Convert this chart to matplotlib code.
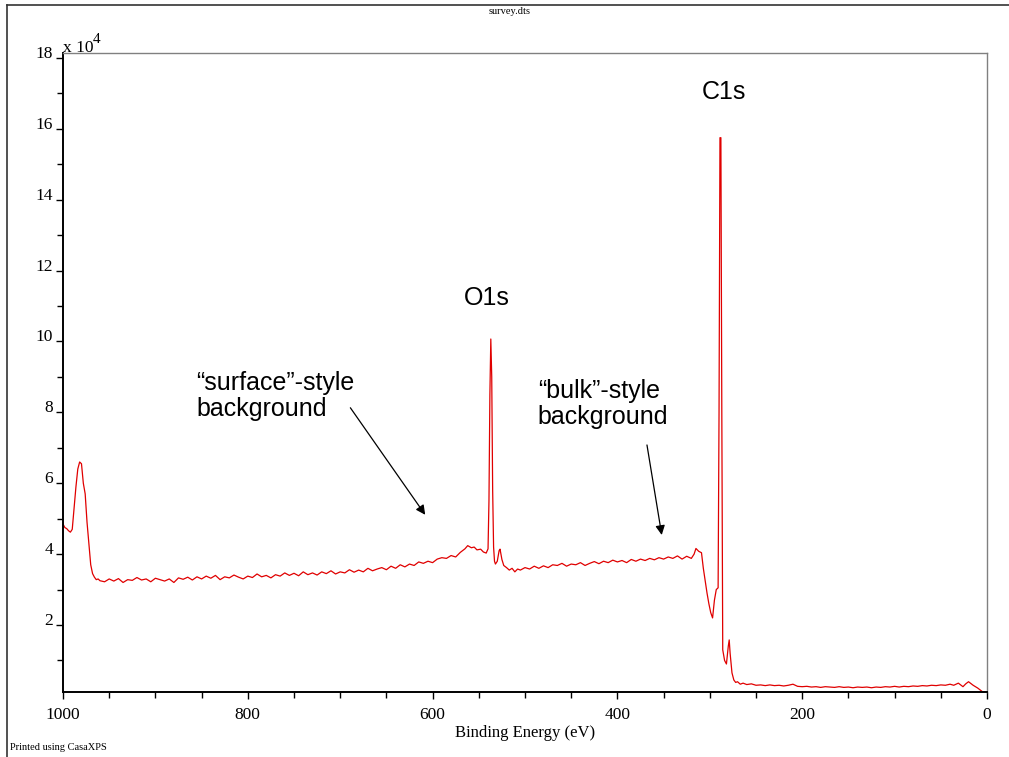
import matplotlib
matplotlib.use('Agg')
import matplotlib.pyplot as plt
from matplotlib.lines import Line2D
from matplotlib.ticker import MultipleLocator

# Survey spectrum (binding energy in eV, counts in units of 1e4)
energy = [
    1000, 998, 996, 994, 992, 990, 988, 986, 984, 982, 980, 978, 976, 974, 972, 970, 968, 966, 964, 962, 960,
    955, 950, 945, 940, 935, 930, 925, 920, 915, 910, 905, 900, 895, 890, 885, 880, 875, 870, 865, 860,
    855, 850, 845, 840, 835, 830, 825, 820, 815, 810, 805, 800, 795, 790, 785, 780, 775, 770, 765, 760,
    755, 750, 745, 740, 735, 730, 725, 720, 715, 710, 705, 700, 695, 690, 685, 680, 675, 670, 665, 660,
    655, 650, 645, 640, 635, 630, 625, 620, 615, 610, 605, 600, 595, 590, 585, 580, 575, 570, 565, 562,
    558, 555, 552, 548, 545, 542, 540, 539, 538, 537, 536, 535, 534, 533, 532, 530, 528, 527, 525, 523,
    520, 517, 514, 511, 508, 505, 500, 495, 490, 485, 480, 475, 470, 465, 460, 455, 450, 445, 440, 435,
    430, 425, 420, 415, 410, 405, 400, 395, 390, 385, 380, 375, 370, 365, 360, 355, 350, 345, 340, 335,
    330, 325, 320, 317, 315, 312, 309, 307, 305, 303, 301, 299, 297, 295, 293, 291, 290, 289, 288, 287,
    286, 284, 282, 280, 279, 278, 276, 274, 272, 270, 267, 264, 260, 255, 250, 245, 240, 235, 230, 225,
    220, 215, 210, 205, 200, 195, 190, 185, 180, 175, 170, 165, 160, 155, 150, 145, 140, 135, 130, 125,
    120, 115, 110, 105, 100, 95, 90, 85, 80, 75, 70, 65, 60, 55, 50, 45, 40, 36, 31, 26,
    23, 20, 15, 10, 5, 0,
]
counts = [
    4.85, 4.75, 4.72, 4.66, 4.62, 4.70, 5.30, 5.90, 6.40, 6.60, 6.55, 6.00, 5.70, 4.90, 4.30, 3.70, 3.45, 3.35, 3.28, 3.30, 3.25,
    3.22, 3.30, 3.24, 3.31, 3.20, 3.28, 3.26, 3.34, 3.27, 3.30, 3.22, 3.32, 3.28, 3.24, 3.30, 3.20, 3.33, 3.29, 3.35, 3.27,
    3.36, 3.30, 3.38, 3.32, 3.40, 3.28, 3.36, 3.33, 3.41, 3.35, 3.30, 3.38, 3.34, 3.44, 3.36, 3.40, 3.33, 3.42, 3.38, 3.47,
    3.40, 3.46, 3.39, 3.50, 3.42, 3.47, 3.41, 3.50, 3.45, 3.53, 3.44, 3.50, 3.47, 3.56, 3.49, 3.55, 3.50, 3.60, 3.53, 3.58,
    3.62, 3.56, 3.66, 3.60, 3.70, 3.64, 3.72, 3.68, 3.78, 3.74, 3.80, 3.76, 3.86, 3.90, 3.88, 3.96, 3.92, 4.05, 4.15, 4.24,
    4.18, 4.20, 4.12, 4.14, 4.06, 4.03, 4.15, 5.50, 8.50, 10.07, 9.00, 5.80, 4.20, 3.80, 3.72, 3.80, 4.10, 4.14, 3.85, 3.68,
    3.62, 3.55, 3.60, 3.50, 3.58, 3.55, 3.62, 3.58, 3.66, 3.60, 3.67, 3.62, 3.70, 3.68, 3.74, 3.66, 3.72, 3.70, 3.76, 3.68,
    3.74, 3.79, 3.73, 3.80, 3.76, 3.83, 3.78, 3.82, 3.76, 3.85, 3.80, 3.86, 3.82, 3.88, 3.84, 3.90, 3.86, 3.92, 3.88, 3.95,
    3.86, 3.94, 3.88, 4.00, 4.16, 4.08, 4.04, 3.60, 3.25, 2.90, 2.60, 2.35, 2.20, 2.70, 3.00, 3.05, 8.00, 15.75, 15.75, 8.00,
    1.30, 1.00, 0.90, 1.40, 1.58, 1.20, 0.65, 0.45, 0.38, 0.40, 0.33, 0.36, 0.32, 0.34, 0.30, 0.31, 0.29, 0.31, 0.29, 0.30,
    0.28, 0.30, 0.33, 0.27, 0.26, 0.27, 0.25, 0.26, 0.24, 0.26, 0.25, 0.24, 0.26, 0.24, 0.25, 0.23, 0.25, 0.24, 0.25, 0.23,
    0.25, 0.24, 0.26, 0.25, 0.27, 0.25, 0.27, 0.26, 0.28, 0.27, 0.29, 0.28, 0.30, 0.29, 0.31, 0.30, 0.33, 0.30, 0.36, 0.26,
    0.34, 0.40, 0.30, 0.22, 0.12, 0.11,
]

serif = 'Liberation Serif'
sans = 'Liberation Sans'

fig = plt.figure(figsize=(10.09, 7.57), dpi=100)
ax = fig.add_axes([63 / 1009, 1 - 692 / 757, (987 - 63) / 1009, (692 - 53) / 757])

ax.plot(energy, counts, color='#e00000', lw=0.9)

ax.set_xlim(1000, 0)
ax.set_ylim(0.11, 18.14)

# axes frame: black left/bottom, grey top/right
for side in ['left', 'bottom']:
    ax.spines[side].set_color('black')
    ax.spines[side].set_linewidth(1.4)
for side in ['top', 'right']:
    ax.spines[side].set_color('#808080')
    ax.spines[side].set_linewidth(1.0)

ax.xaxis.set_major_locator(MultipleLocator(200))
ax.xaxis.set_minor_locator(MultipleLocator(50))
ax.yaxis.set_minor_locator(MultipleLocator(1))
ax.set_yticks([2, 4, 6, 8, 10, 12, 14, 16, 18])
ax.tick_params(axis='x', which='major', direction='out', length=5, width=1, pad=6)
ax.tick_params(axis='x', which='minor', direction='out', length=4, width=1)
ax.tick_params(axis='y', which='major', direction='out', length=5, width=1, pad=2)
ax.tick_params(axis='y', which='minor', direction='out', length=4, width=1)
for lab in ax.get_xticklabels() + ax.get_yticklabels():
    lab.set_fontfamily(serif)
    lab.set_fontsize(12.5)
for lab in ax.get_yticklabels():
    lab.set_verticalalignment('baseline')

ax.set_xlabel('Binding Energy (eV)', fontfamily=serif, fontsize=12, labelpad=1)

# multiplier label
fig.text(63 / 1009, 1 - 52 / 757, 'x 10', fontfamily=serif, fontsize=12.5, ha='left', va='baseline')
fig.text(93 / 1009, 1 - 43 / 757, '4', fontfamily=serif, fontsize=11, ha='left', va='baseline')

# page texts
fig.text(510 / 1009, 1 - 12 / 757, 'survey.dts', fontfamily=serif, fontsize=7.5, ha='center', va='center')
fig.text(10 / 1009, 1 - 747 / 757, 'Printed using CasaXPS', fontfamily=serif, fontsize=7.5, ha='left', va='center')

# page frame
fig.add_artist(Line2D([7 / 1009, 1.0], [1 - 5 / 757] * 2, transform=fig.transFigure, color='#333333', lw=1.2))
fig.add_artist(Line2D([7 / 1009] * 2, [1 - 5 / 757, 0.0], transform=fig.transFigure, color='#333333', lw=1.2))

# peak labels and annotations
ax.text(285, 17.04, 'C1s', fontfamily=sans, fontsize=18, ha='center', va='center')
ax.text(541, 11.23, 'O1s', fontfamily=sans, fontsize=18, ha='center', va='center')
ax.text(856, 8.46, '\u201csurface\u201d-style\nbackground', fontfamily=sans, fontsize=18,
        ha='left', va='center', linespacing=1.1)
ax.text(486, 8.24, '\u201cbulk\u201d-style\nbackground', fontfamily=sans, fontsize=18,
        ha='left', va='center', linespacing=1.1)

arrow = dict(arrowstyle='-|>', color='black', lw=0.9, mutation_scale=14, shrinkA=0, shrinkB=0)
ax.annotate('', xy=(608, 5.11), xytext=(689, 8.13), arrowprops=arrow)
ax.annotate('', xy=(352, 4.54), xytext=(368, 7.08), arrowprops=arrow)

fig.savefig('out.png', dpi=100)
